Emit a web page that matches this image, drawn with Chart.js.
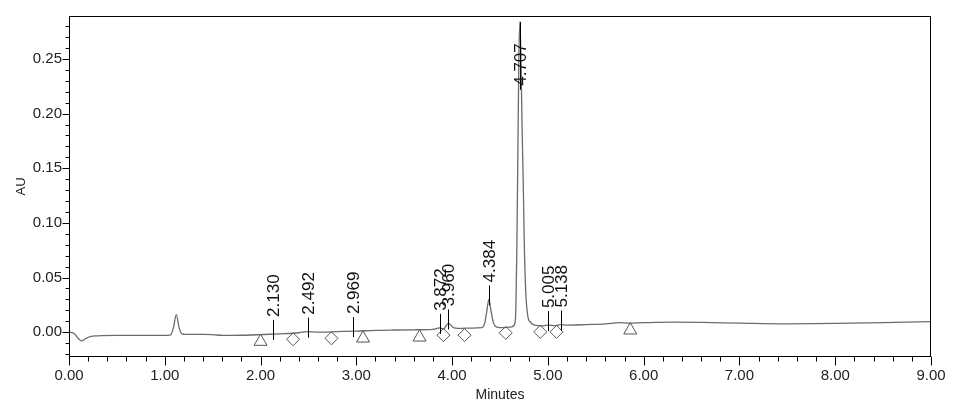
<!DOCTYPE html>
<html>
<head>
<meta charset="utf-8">
<script src="https://cdn.jsdelivr.net/npm/chart.js@4.4.1/dist/chart.umd.min.js"></script>
<style>
  html, body { margin: 0; padding: 0; background: #fff; }
  #wrap { width: 959px; height: 414px; }
</style>
</head>
<body>
<div id="wrap"><canvas id="myChart" width="959" height="414"></canvas></div>
<script>
'use strict';

// trace (minutes, AU)
let times = [0.00, 0.05, 0.10, 0.13, 0.17, 0.22, 0.30, 0.50, 0.80, 1.00, 1.06, 1.09, 1.12, 1.15, 1.18, 1.22,
  1.40, 1.50, 1.60, 1.80, 2.00, 2.20, 2.40, 2.49, 2.60, 2.80, 3.00, 3.20, 3.40, 3.60, 3.80, 3.87, 3.91,
  3.96, 4.02, 4.10, 4.20, 4.31, 4.34, 4.36, 4.384, 4.405, 4.43, 4.46, 4.50, 4.55, 4.62, 4.655, 4.665,
  4.675, 4.685, 4.697, 4.707, 4.718, 4.73, 4.742, 4.755, 4.77, 4.79, 4.82, 4.86, 4.95, 5.005, 5.07,
  5.138, 5.20, 5.40, 5.60, 5.75, 5.85, 6.00, 6.30, 6.60, 7.00, 7.50, 8.00, 8.50, 9.00];
let absorbance = [0.000, -0.001, -0.006, -0.008, -0.006, -0.004, -0.0033, -0.003, -0.003, -0.003, -0.0025,
  0.004, 0.016, 0.004, -0.0015, -0.002, -0.002, -0.0022, -0.003, -0.0028, -0.0022, -0.0015, -0.0005,
  0.0005, 0.000, 0.0005, 0.001, 0.0017, 0.002, 0.0022, 0.0026, 0.004, 0.003, 0.008, 0.004, 0.0035,
  0.0038, 0.0042, 0.008, 0.018, 0.030, 0.020, 0.009, 0.0048, 0.0042, 0.0042, 0.0048, 0.008, 0.020,
  0.070, 0.150, 0.250, 0.284, 0.255, 0.190, 0.140, 0.075, 0.035, 0.015, 0.009, 0.0065, 0.0058, 0.0065,
  0.006, 0.007, 0.0065, 0.007, 0.0076, 0.0087, 0.0083, 0.0087, 0.0092, 0.009, 0.0083, 0.0076, 0.008,
  0.0088, 0.0096];

// baseline start/end markers and drop markers
let triangleTimes = [2.00, 3.07, 3.66, 5.86];
let triangleValues = [-0.0086, -0.0056, -0.0047, 0.0018];
let diamondTimes = [2.34, 2.74, 3.91, 4.13, 4.56, 4.92, 5.09];
let diamondValues = [-0.0065, -0.0056, -0.0027, -0.0027, -0.0006, 0.0003, 0.0003];

// peak retention time labels
let peakTimes = [2.130, 2.492, 2.969, 3.872, 3.960, 4.384, 4.707, 5.005, 5.138];
let peakHeights = [-0.0016, 0.0005, 0.001, 0.004, 0.008, 0.030, 0.284, 0.0065, 0.007];
let peakLabels = ['2.130', '2.492', '2.969', '3.872', '3.960', '4.384', '4.707', '5.005', '5.138'];

let xTicks = [0, 1, 2, 3, 4, 5, 6, 7, 8, 9];
let xTickLabels = ['0.00', '1.00', '2.00', '3.00', '4.00', '5.00', '6.00', '7.00', '8.00', '9.00'];
let yTicks = [0, 0.05, 0.10, 0.15, 0.20, 0.25];
let yTickLabels = ['0.00', '0.05', '0.10', '0.15', '0.20', '0.25'];

const ctx = document.getElementById('myChart').getContext('2d');

function toPoints(xs, ys) {
  let pts = [];
  for (let i = 0; i < xs.length; i++) {
    pts.push({ x: xs[i], y: ys[i] });
  }
  return pts;
}

// frame, major and minor tick marks
let frameTicks = {
  id: 'frameTicks',
  afterDraw(chart) {
    let c = chart.ctx;
    let area = chart.chartArea;
    let xs = chart.scales.x;
    let ys = chart.scales.y;
    c.save();
    c.strokeStyle = '#000';
    c.lineWidth = 1;
    c.strokeRect(Math.round(area.left) + 0.5, Math.round(area.top) + 0.5,
      Math.round(area.right - area.left) - 1, Math.round(area.bottom - area.top) - 1);
    c.beginPath();
    let bottom = Math.round(area.bottom) - 0.5;
    for (let i = 0; i <= 45; i++) {
      let px = Math.round(xs.getPixelForValue(i * 0.2)) + 0.5;
      let len = (i % 5 === 0) ? 9 : 5;
      c.moveTo(px, bottom);
      c.lineTo(px, bottom + len);
    }
    let left = Math.round(area.left) + 0.5;
    for (let i = -2; i <= 28; i++) {
      let py = Math.round(ys.getPixelForValue(i * 0.01)) + 0.5;
      let len = (i % 5 === 0) ? 7 : 4;
      c.moveTo(left, py);
      c.lineTo(left - len, py);
    }
    c.stroke();
    c.restore();
  }
};

// vertical retention time labels
let peakNames = {
  id: 'peakNames',
  afterDatasetsDraw(chart) {
    let c = chart.ctx;
    let xs = chart.scales.x;
    let ys = chart.scales.y;
    c.save();
    c.strokeStyle = '#000';
    c.fillStyle = '#111';
    c.lineWidth = 1;
    c.font = '17px "Liberation Sans", Arial, sans-serif';
    c.textAlign = 'left';
    c.textBaseline = 'middle';
    for (let i = 0; i < peakTimes.length; i++) {
      let px = Math.round(xs.getPixelForValue(peakTimes[i])) + 0.5;
      let apex = ys.getPixelForValue(peakHeights[i]);
      let textLen = c.measureText(peakLabels[i]).width;
      let lineTop = apex - 14;
      let lineBottom = apex + 6;
      let textStart = lineTop - 3;
      if (textStart - textLen < chart.chartArea.top) {
        // no room above the peak: put the label under the apex
        lineTop = apex;
        lineBottom = apex + 68;
        textStart = apex + 64;
      }
      c.beginPath();
      c.moveTo(px, lineBottom);
      c.lineTo(px, lineTop);
      c.stroke();
      c.save();
      c.translate(px + 1, textStart);
      c.rotate(-Math.PI / 2);
      c.fillText(peakLabels[i], 0, 0);
      c.restore();
    }
    c.restore();
  }
};

let chartObject = {
  type: 'scatter',
  data: {
    datasets: [{
      label: 'trace',
      data: toPoints(times, absorbance),
      showLine: true,
      borderColor: '#6b6b6b',
      borderWidth: 1.3,
      pointRadius: 0,
      cubicInterpolationMode: 'monotone',
      order: 2
    },
    {
      label: 'baseline',
      data: toPoints(triangleTimes, triangleValues),
      pointStyle: 'triangle',
      pointRadius: 7.5,
      borderColor: '#555',
      backgroundColor: 'rgba(0,0,0,0)',
      borderWidth: 1,
      order: 1
    },
    {
      label: 'drop',
      data: toPoints(diamondTimes, diamondValues),
      pointStyle: 'rectRot',
      pointRadius: 6.5,
      borderColor: '#555',
      backgroundColor: 'rgba(0,0,0,0)',
      borderWidth: 1,
      order: 1
    }]
  },
  options: {
    responsive: false,
    animation: false,
    events: [],
    layout: { padding: { top: 6, right: 28, left: 0, bottom: 0 } },
    plugins: {
      legend: { display: false },
      tooltip: { enabled: false }
    },
    scales: {
      x: {
        type: 'linear',
        min: 0,
        max: 9,
        afterFit(scale) { scale.height = 57; },
        afterBuildTicks(scale) { scale.ticks = xTicks.map(v => ({ value: v })); },
        grid: { display: true, drawOnChartArea: false, drawTicks: false },
        border: { display: false },
        ticks: {
          autoSkip: false,
          maxRotation: 0,
          padding: 10,
          color: '#222',
          font: { family: '"Liberation Sans", Arial, sans-serif', size: 15 },
          callback: (v) => xTickLabels[xTicks.indexOf(v)]
        },
        title: {
          display: true,
          text: 'Minutes',
          color: '#222',
          padding: { top: 0, bottom: 10 },
          font: { family: '"Liberation Sans", Arial, sans-serif', size: 14 }
        }
      },
      y: {
        type: 'linear',
        min: -0.0227,
        max: 0.2893,
        afterFit(scale) { scale.width = 69; },
        afterBuildTicks(scale) { scale.ticks = yTicks.map(v => ({ value: v })); },
        grid: { display: true, drawOnChartArea: false, drawTicks: false },
        border: { display: false },
        ticks: {
          padding: 7,
          color: '#222',
          font: { family: '"Liberation Sans", Arial, sans-serif', size: 15 },
          callback: (v) => yTickLabels[yTicks.indexOf(v)]
        },
        title: {
          display: true,
          text: 'AU',
          color: '#222',
          padding: { top: 14, bottom: 0 },
          font: { family: '"Liberation Sans", Arial, sans-serif', size: 13 }
        }
      }
    }
  },
  plugins: [frameTicks, peakNames]
};

new Chart(ctx, chartObject);
</script>
</body>
</html>
